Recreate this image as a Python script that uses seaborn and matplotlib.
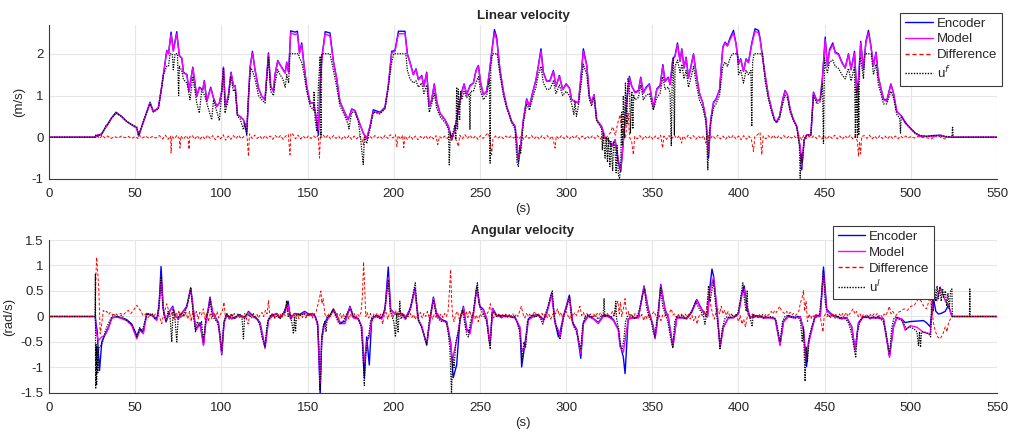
import pandas as pd
import seaborn as sns
import matplotlib.pyplot as plt
from matplotlib.lines import Line2D
from matplotlib.ticker import FuncFormatter

# ---- linear velocity (m/s), (t, v) ----
lin_model = [
    (0, 0), (26.7, 0), (28, 0.03), (30.5, 0.08), (33.4, 0.26), (36.4, 0.46), (38.9, 0.58), (42, 0.5), (45, 0.38), (48, 0.3),
    (50.9, 0.22), (52, 0.03), (55, 0.4), (58.6, 0.82), (60.5, 0.62), (63.4, 0.7), (65.4, 1.22), (68.3, 2.06), (69.3, 2.0), (70.8, 2.46),
    (72.1, 2.06), (74.1, 2.48), (75.6, 1.94), (77, 1.9), (78, 1.54), (80, 1.5), (81.2, 1.1), (83.4, 1.66), (85.7, 0.98), (87.2, 1.18),
    (89.2, 1.14), (90.1, 1.34), (91.5, 0.86), (93.8, 1.18), (95.4, 0.94), (97.3, 0.74), (98.8, 0.82), (100.2, 1.1), (101.2, 1.66), (102.3, 0.74),
    (104, 0.98), (105.6, 1.54), (107, 1.22), (108, 1.24), (109.3, 0.54), (110.8, 0.5), (112.8, 0.42), (114.7, 0.18), (115.7, 0.9), (116.6, 1.66),
    (118, 2.02), (119.5, 1.62), (121.5, 1.18), (123.4, 0.98), (125.3, 0.9), (127.3, 1.98), (128.6, 1.22), (130.2, 1.1), (131.1, 1.5), (132.7, 1.82),
    (134, 1.74), (135.6, 1.62), (137, 1.54), (137.9, 1.78), (139, 1.55), (140.2, 2.5), (142.7, 2.46), (144.1, 2.48), (145.3, 2.02), (146.6, 2.22),
    (148, 1.7), (149.5, 1.22), (151.5, 0.82), (153.4, 0.82), (154.9, 0.5), (156.3, 0.18), (157.3, 1.22), (158.2, 1.86), (160.2, 2.48), (163, 2.42),
    (165, 1.8), (166.9, 1.4), (168.8, 0.85), (171.7, 0.58), (173.6, 0.42), (175.6, 0.66), (177.5, 0.64), (179.4, 0.42), (182.3, 0.1), (184.3, -0.02),
    (186.2, 0.26), (188.1, 0.62), (192, 0.58), (194.9, 0.7), (196.8, 1.22), (198.8, 2.02), (200.7, 2.06), (202.7, 2.48), (206.5, 2.48), (207.9, 1.98),
    (209.4, 1.78), (211.4, 1.5), (212.9, 1.62), (214.3, 1.38), (216.2, 1.46), (217.5, 1.22), (219.1, 1.54), (220.6, 0.74), (222, 0.9), (223.5, 1.26),
    (224.9, 0.86), (226.8, 0.58), (229.7, 0.42), (231.7, 0.26), (233.6, -0.02), (235.5, 0.18), (237.5, 0.66), (239.4, 1.06), (240.8, 1.26), (242.3, 1.02),
    (244.2, 1.22), (246.2, 1.3), (247.7, 1.58), (249.1, 1.7), (250.4, 1.3), (252, 1.02), (253.9, 1.1), (255.5, 1.54), (256.8, 2.02), (258.4, 2.5),
    (259.7, 2.34), (261.6, 1.62), (263.6, 1.1), (265.5, 0.74), (268.4, 0.38), (270.4, 0.26), (272.3, -0.54), (273.6, -0.22), (275.2, 0.42), (277.1, 0.9),
    (278.7, 0.74), (280.6, 1.06), (282.5, 1.38), (283.9, 1.7), (285.4, 2.06), (286.8, 1.54), (288.7, 1.34), (290.6, 1.34), (292.6, 1.58), (294.1, 1.22),
    (296.1, 1.46), (298, 1.14), (300, 1.26), (301.9, 1.18), (303.2, 0.9), (305.1, 0.86), (307.1, 0.82), (308.5, 1.38), (310, 2.06), (312, 1.7),
    (313.5, 0.98), (314.8, 0.82), (316.2, 1.02), (317.7, 0.42), (320.6, 0.26), (322.6, -0.02), (324.5, -0.06), (326.4, -0.22), (328.4, -0.06), (330.3, -0.54),
    (331.7, -0.78), (333.2, -0.1), (335.2, 0.85), (336.7, 1.42), (338.1, 1.22), (340, 1.06), (341.9, 1.1), (343.3, 1.42), (344.8, 1.06), (346.4, 1.18),
    (348.3, 1.26), (350.6, 0.7), (352.6, 1.14), (354.5, 1.22), (356.1, 1.7), (357.4, 1.34), (359.3, 1.42), (360.3, 1.26), (361.9, 1.86), (363.2, 1.94),
    (364.6, 2.22), (366.1, 1.82), (367.1, 2.1), (368.4, 1.66), (369.6, 1.9), (371, 1.42), (372.5, 1.7), (373.9, 1.98), (375.4, 1.54), (377.3, 1.06),
    (379.3, 0.82), (381.2, 0.42), (382.6, -0.42), (383.9, 0.42), (385.5, 0.82), (387, 0.9), (389, 1.14), (390.9, 2.14), (392.2, 2.26), (393.6, 2.18),
    (395.1, 2.34), (397.1, 2.5), (398.6, 2.22), (400, 1.74), (401.3, 1.86), (402.9, 1.58), (404.4, 1.86), (405.8, 1.78), (407.7, 2.22), (409.6, 2.54),
    (411.6, 2.5), (412.5, 2.34), (414.1, 1.86), (415.4, 1.5), (417.4, 0.98), (419.3, 0.66), (420.9, 0.42), (422.2, 0.38), (423.8, 0.5), (425.7, 0.9),
    (427, 1.1), (428.4, 1.02), (430, 0.66), (431.9, 0.42), (433.8, 0.26), (435.8, -0.22), (436.7, -0.7), (438.1, -0.06), (439.6, 0.06), (442, 0.06),
    (443.5, 1.06), (445.4, 0.86), (447.4, 0.9), (448.7, 1.42), (450.3, 2.34), (451.6, 1.7), (452.8, 2.06), (454.7, 2.22), (456.1, 2.02), (458, 1.98),
    (460, 1.78), (461.9, 1.66), (463.8, 1.98), (465.3, 1.62), (467.3, 2.02), (468.6, 1.06), (469.8, 1.46), (470.9, 2.26), (472.5, 1.62), (473.9, 2.26),
    (475.4, 2.5), (476.8, 2.18), (478.3, 1.7), (479.8, 2.02), (481.2, 1.42), (482.6, 1.18), (484.1, 0.9), (486, 0.86), (488.4, 1.26), (489.9, 1.06),
    (491.8, 0.62), (494.7, 0.5), (496.7, 0.34), (499.6, 0.22), (502.5, 0.1), (505.4, 0.03), (509.2, 0.02), (513, 0.02), (517, 0.05), (520.9, 0.0),
    (550, 0.0),
]

lin_encoder = [
    (0, 0), (26.7, 0), (28, 0.05), (30.5, 0.08), (33.4, 0.28), (36.4, 0.47), (38.9, 0.6), (42, 0.5), (45, 0.38), (48, 0.3),
    (50.9, 0.22), (52, 0.03), (55, 0.4), (58.6, 0.84), (60.5, 0.62), (63.4, 0.7), (65.4, 1.22), (68.3, 2.08), (69.3, 2.0), (70.8, 2.52),
    (72.1, 2.08), (74.1, 2.53), (75.6, 1.96), (77, 1.9), (78, 1.56), (80, 1.5), (81.2, 1.1), (83.4, 1.68), (85.7, 0.98), (87.2, 1.2),
    (89.2, 1.14), (90.1, 1.36), (91.5, 0.86), (93.8, 1.2), (95.4, 0.94), (97.3, 0.74), (98.8, 0.82), (100.2, 1.1), (101.2, 1.68), (102.3, 0.74),
    (104, 0.98), (105.6, 1.56), (107, 1.22), (108, 1.24), (109.3, 0.54), (110.8, 0.5), (112.8, 0.42), (114.7, 0.1), (115.7, 0.9), (116.6, 1.66),
    (118, 2.06), (119.5, 1.62), (121.5, 1.18), (123.4, 0.98), (125.3, 0.9), (127.3, 2.02), (128.6, 1.22), (130.2, 1.1), (131.1, 1.5), (132.7, 1.84),
    (134, 1.74), (135.6, 1.64), (137, 1.54), (137.9, 1.8), (139, 1.55), (140.2, 2.55), (142.7, 2.52), (144.1, 2.54), (145.3, 2.02), (146.6, 2.26),
    (148, 1.7), (149.5, 1.22), (151.5, 0.82), (153.4, 0.82), (154.9, 0.5), (156.3, 0.05), (157.3, 1.22), (158.2, 1.88), (160.2, 2.53), (163, 2.5),
    (165, 1.82), (166.9, 1.4), (168.8, 0.85), (171.7, 0.58), (173.6, 0.42), (175.6, 0.68), (177.5, 0.64), (179.4, 0.42), (182.3, 0.1), (184.3, -0.04),
    (186.2, 0.26), (188.1, 0.66), (192, 0.6), (194.9, 0.72), (196.8, 1.22), (198.8, 2.06), (200.7, 2.08), (202.7, 2.54), (206.5, 2.54), (207.9, 2.0),
    (209.4, 1.8), (211.4, 1.5), (212.9, 1.64), (214.3, 1.38), (216.2, 1.48), (217.5, 1.22), (219.1, 1.56), (220.6, 0.74), (222, 0.9), (223.5, 1.28),
    (224.9, 0.86), (226.8, 0.58), (229.7, 0.42), (231.7, 0.26), (233.6, -0.06), (235.5, 0.18), (237.5, 0.68), (239.4, 1.08), (240.8, 1.28), (242.3, 1.02),
    (244.2, 1.24), (246.2, 1.3), (247.7, 1.6), (249.1, 1.72), (250.4, 1.3), (252, 1.02), (253.9, 1.1), (255.5, 1.56), (256.8, 2.04), (258.4, 2.58),
    (259.7, 2.4), (261.6, 1.62), (263.6, 1.1), (265.5, 0.74), (268.4, 0.38), (270.4, 0.26), (272.3, -0.6), (273.6, -0.22), (275.2, 0.42), (277.1, 0.92),
    (278.7, 0.74), (280.6, 1.08), (282.5, 1.38), (283.9, 1.72), (285.4, 2.12), (286.8, 1.56), (288.7, 1.34), (290.6, 1.36), (292.6, 1.6), (294.1, 1.22),
    (296.1, 1.48), (298, 1.14), (300, 1.28), (301.9, 1.18), (303.2, 0.9), (305.1, 0.86), (307.1, 0.82), (308.5, 1.4), (310, 2.12), (312, 1.72),
    (313.5, 0.98), (314.8, 0.84), (316.2, 1.02), (317.7, 0.42), (320.6, 0.26), (322.6, -0.02), (324.5, -0.06), (326.4, -0.22), (328.4, -0.06), (330.3, -0.6),
    (331.7, -0.82), (333.2, -0.1), (335.2, 0.88), (336.7, 1.46), (338.1, 1.22), (340, 1.08), (341.9, 1.12), (343.3, 1.44), (344.8, 1.06), (346.4, 1.2),
    (348.3, 1.28), (350.6, 0.7), (352.6, 1.16), (354.5, 1.24), (356.1, 1.74), (357.4, 1.34), (359.3, 1.44), (360.3, 1.26), (361.9, 1.88), (363.2, 1.96),
    (364.6, 2.26), (366.1, 1.82), (367.1, 2.12), (368.4, 1.66), (369.6, 1.92), (371, 1.42), (372.5, 1.72), (373.9, 2.0), (375.4, 1.54), (377.3, 1.06),
    (379.3, 0.82), (381.2, 0.42), (382.6, -0.5), (383.9, 0.42), (385.5, 0.84), (387, 0.92), (389, 1.14), (390.9, 2.16), (392.2, 2.28), (393.6, 2.2),
    (395.1, 2.38), (397.1, 2.56), (398.6, 2.24), (400, 1.76), (401.3, 1.88), (402.9, 1.58), (404.4, 1.88), (405.8, 1.8), (407.7, 2.26), (409.6, 2.6),
    (411.6, 2.56), (412.5, 2.38), (414.1, 1.88), (415.4, 1.5), (417.4, 0.98), (419.3, 0.66), (420.9, 0.42), (422.2, 0.36), (423.8, 0.5), (425.7, 0.92),
    (427, 1.12), (428.4, 1.02), (430, 0.66), (431.9, 0.42), (433.8, 0.26), (435.8, -0.26), (436.7, -0.78), (438.1, -0.06), (439.6, 0.06), (442, 0.06),
    (443.5, 1.08), (445.4, 0.88), (447.4, 0.9), (448.7, 1.44), (450.3, 2.4), (451.6, 1.7), (452.8, 2.1), (454.7, 2.26), (456.1, 2.04), (458, 2.0),
    (460, 1.8), (461.9, 1.66), (463.8, 2.0), (465.3, 1.62), (467.3, 2.06), (468.6, 1.06), (469.8, 1.46), (470.9, 2.3), (472.5, 1.62), (473.9, 2.3),
    (475.4, 2.56), (476.8, 2.2), (478.3, 1.72), (479.8, 2.04), (481.2, 1.44), (482.6, 1.18), (484.1, 0.92), (486, 0.88), (488.4, 1.28), (489.9, 1.06),
    (491.8, 0.62), (494.7, 0.5), (496.7, 0.36), (499.6, 0.22), (502.5, 0.1), (505.4, 0.03), (509.2, 0.02), (513, 0.04), (517, 0.05), (520.9, 0.0),
    (550, 0.0),
]

lin_uf = [
    (0, 0), (26.5, 0), (27, 0.05), (28, 0.02), (29, 0.06), (30, 0.03), (31, 0.1), (33, 0.28), (34, 0.3), (36, 0.45),
    (38.9, 0.58), (42, 0.5), (45, 0.38), (48, 0.3), (50.9, 0.25), (52, 0.05), (55, 0.42), (58.6, 0.8), (60.5, 0.6), (63.4, 0.68),
    (65.4, 1.2), (66.3, 1.5), (68.3, 1.7), (69.3, 1.7), (70.2, 2.0), (71.5, 2.0), (72.1, 1.62), (73.1, 2.0), (74.5, 2.0), (75.2, 1.0),
    (75.6, 1.7), (77, 1.6), (78, 1.38), (80, 1.3), (81.8, 0.9), (83.4, 1.46), (85.7, 0.82), (87.2, 0.58), (88.6, 1.14), (90.5, 0.98),
    (92, 0.75), (94.4, 0.42), (95.4, 0.9), (97.3, 0.62), (98.8, 0.4), (100.2, 1.05), (101.2, 1.66), (102.1, 0.58), (104, 0.9), (105.4, 1.46),
    (107, 1.1), (108, 1.15), (109.3, 0.5), (110.8, 0.45), (112.8, 0.18), (113.5, 0.35), (114.7, 0.05), (115.7, 1.02), (117, 1.66), (118, 1.6),
    (119.5, 1.4), (121.5, 1.0), (123.4, 0.9), (125.3, 0.82), (127.3, 1.94), (128.6, 1.1), (130.2, 1.0), (131.1, 1.3), (132.7, 1.62), (134, 1.5),
    (135.6, 1.4), (137, 1.2), (137.9, 1.5), (139, 1.3), (139.8, 2.0), (144.7, 2.0), (145.3, 1.9), (146.6, 1.8), (148, 1.5), (149.5, 1.1),
    (151.5, 0.75), (153.4, 0.65), (153.8, 1.1), (154.4, 0.42), (155.4, 0.14), (156.3, 1.22), (157.3, 1.94), (157.8, 0.0), (158.2, 2.0), (163, 2.0),
    (165, 1.6), (166.9, 1.2), (168.8, 0.75), (171.7, 0.5), (173.6, 0.3), (174, 0.2), (175.6, 0.6), (177.5, 0.6), (179.4, 0.38), (180.5, 0.05),
    (182.3, -0.65), (183, 0.0), (184.3, -0.15), (186.2, 0.2), (188.1, 0.6), (192, 0.56), (194.9, 0.68), (196.8, 1.2), (198.8, 1.8), (200, 2.0),
    (207, 2.0), (207.9, 1.6), (209.4, 1.4), (211.4, 1.3), (212.9, 1.35), (214.3, 1.2), (216.2, 1.3), (217.5, 1.05), (219.1, 1.25), (220.6, 0.6),
    (222, 0.8), (223.5, 1.05), (224.9, 0.7), (226.8, 0.5), (229.7, 0.35), (231.7, 0.2), (232.2, -0.66), (232.8, 0.1), (233.6, 0.0), (235.5, 0.3),
    (236, -0.05), (236.5, 1.2), (237, 0.2), (237.5, 1.15), (238.2, 0.4), (238.8, 1.1), (239.4, 0.9), (240.8, 1.1), (242.3, 0.95), (243.8, 1.05),
    (244.2, 0.18), (244.6, 1.1), (246.2, 1.1), (247.7, 1.3), (249.1, 1.45), (250.4, 1.1), (252, 0.9), (253.9, 1.0), (255.5, 1.4), (255.9, -0.62),
    (256.3, 1.7), (257.3, 2.0), (260, 2.0), (261.6, 1.5), (263.6, 1.0), (265.5, 0.7), (268.4, 0.35), (270.4, 0.2), (271.5, -0.6), (272.3, -0.7),
    (273, -0.2), (273.6, -0.4), (275.2, 0.35), (277.1, 0.8), (278.7, 0.65), (280.6, 0.95), (282.5, 1.2), (283.9, 1.5), (285.4, 1.7), (286.8, 1.3),
    (288.7, 1.15), (290.6, 1.15), (292.6, 1.35), (294.1, 1.05), (296.1, 1.25), (298, 1.0), (300, 1.1), (301.9, 1.0), (303.2, 0.8), (304.5, 0.55),
    (305.1, 0.85), (306, 0.5), (307.1, 0.75), (308.5, 1.2), (310, 1.75), (312, 1.5), (313.5, 0.9), (314.8, 0.75), (316.2, 0.95), (317.7, 0.4),
    (320.6, 0.2), (321, -0.3), (321.5, 0.1), (322.6, -0.5), (323.2, 0.0), (324, -0.6), (324.5, 0.0), (325.4, -0.7), (326, -0.1), (326.4, -0.4),
    (327, -0.8), (327.6, -0.1), (328.4, -0.3), (329, -0.85), (329.6, -0.2), (330.3, -0.9), (331, -1.0), (331.7, -0.6), (332.2, 0.6), (332.6, -0.2),
    (333.2, 1.0), (333.8, 0.0), (334.4, 1.3), (335.2, 0.3), (335.8, 1.4), (336.7, 1.3), (337.3, 0.1), (338.1, 1.1), (338.7, 0.2), (339.2, 1.0),
    (340, 0.9), (341.9, 0.95), (343.3, 1.25), (344.8, 0.9), (346.4, 1.0), (348.3, 1.05), (350.6, 0.65), (352.6, 0.95), (354.5, 1.05), (356.1, 1.45),
    (357.4, 1.15), (359.3, 1.2), (360.3, 1.05), (361, -0.2), (361.6, 1.6), (362.2, 1.9), (362.8, 0.05), (363.2, 1.7), (364.6, 1.85), (366.1, 1.55),
    (367.1, 1.75), (368.4, 1.4), (369.6, 1.6), (371, 1.2), (372.5, 1.45), (373.9, 1.7), (375.4, 1.3), (377.3, 0.9), (379.3, 0.7), (381.2, 0.35),
    (382.2, -0.78), (383, 0.1), (383.9, 0.35), (385.5, 0.7), (387, 0.8), (389, 1.0), (390.9, 1.7), (392.2, 1.8), (393.6, 1.7), (395.1, 1.9),
    (396.5, 2.0), (399.5, 2.0), (400, 1.5), (401.3, 1.6), (402.9, 1.3), (404.4, 1.6), (405.8, 1.5), (407.2, 1.6), (407.7, 0.26), (408.2, 1.8),
    (409, 2.0), (414, 2.0), (415.4, 1.35), (417.4, 0.9), (419.3, 0.6), (420.9, 0.4), (422.2, 0.35), (423.8, 0.45), (425.7, 0.8), (427, 1.0),
    (428.4, 0.95), (430, 0.6), (431.9, 0.4), (433.8, 0.25), (435.3, -0.2), (435.8, -0.98), (436.4, -0.4), (437, -0.6), (438.1, -0.05), (439.6, 0.05),
    (442, 0.05), (443.5, 1.0), (445.4, 0.8), (447.4, 0.85), (448.7, 1.3), (449.3, -0.15), (449.9, 1.9), (450.5, 1.7), (451.6, 1.55), (452.8, 1.8),
    (454.7, 1.85), (456.1, 1.7), (458, 1.65), (460, 1.5), (461.9, 1.4), (463.8, 1.65), (465.3, 1.35), (467.3, 1.7), (467.8, 0.0), (468.3, 1.2),
    (468.6, 0.9), (469, 0.0), (469.4, 1.3), (469.8, 0.05), (470.3, 1.9), (470.9, 1.9), (472.5, 1.4), (473.2, 2.0), (477, 2.0), (478.3, 1.5),
    (479.8, 1.75), (481.2, 1.25), (482.6, 1.05), (484.1, 0.8), (486, 0.8), (488.4, 1.1), (489.9, 0.95), (491.8, 0.55), (493.5, 0.45), (494, 0.1),
    (494.4, 0.5), (496.7, 0.35), (499.6, 0.22), (502.5, 0.1), (505.4, 0.04), (509.2, 0.02), (513, 0.04), (517, 0.03), (520.9, 0.02), (523.8, 0.0),
    (524.2, 0.26), (524.6, 0.0), (550, 0.0),
]

lin_diff = [
    (0, 0), (27, 0), (28, 0.04), (29.5, -0.03), (31, 0.05), (32.5, -0.02), (34, 0.03), (36, -0.03), (38, 0.02), (40, -0.02),
    (42, 0.03), (44, -0.01), (46, 0.02), (48, -0.03), (50, 0.02), (51.5, -0.03), (52.5, 0.05), (54, -0.02), (56, 0.03), (58, -0.03),
    (60, 0.02), (62, -0.02), (64, 0.04), (66, -0.04), (67.5, 0.05), (69, -0.05), (70.5, 0.03), (70.8, -0.38), (71.3, 0.02), (72.8, -0.04),
    (74.2, 0.05), (75.6, -0.03), (76, -0.26), (76.5, 0.03), (78, -0.05), (79.5, 0.04), (80.8, -0.04), (81.2, -0.29), (81.7, 0.02), (83, 0.05),
    (84.5, -0.05), (86, 0.04), (87.5, -0.06), (89, 0.03), (90.5, -0.05), (92, 0.05), (93.5, -0.03), (95, 0.04), (96.5, -0.06), (98, 0.03),
    (99.5, -0.04), (101, 0.06), (102.5, -0.07), (104, 0.03), (105.5, -0.05), (107, 0.04), (108.5, -0.03), (110, 0.05), (111.5, -0.04), (113, 0.02),
    (114.8, 0.06), (115.7, -0.46), (116.3, 0.08), (117.8, -0.03), (119.3, 0.05), (120.8, -0.03), (122.3, 0.03), (123.8, -0.05), (125.3, 0.04), (126.8, -0.03),
    (128.3, 0.03), (129.8, -0.05), (131.3, 0.04), (132.8, -0.02), (134.3, 0.04), (135.8, -0.05), (137.3, 0.03), (138.8, 0.07), (139.8, -0.42), (140.3, 0.1),
    (141.5, 0.07), (143, -0.04), (144.5, 0.05), (146, -0.04), (147.5, 0.03), (149, -0.04), (150.5, 0.03), (152, -0.03), (153.5, 0.03), (155, -0.02),
    (156.2, 0.05), (156.9, -0.5), (157.5, 0.1), (158.8, 0.07), (160.3, -0.02), (161.8, 0.05), (163.3, -0.04), (165, 0.04), (166.5, -0.03), (168, 0.03),
    (169.5, -0.06), (171, 0.03), (172.5, -0.04), (174, 0.04), (175.5, -0.05), (177, 0.03), (178.5, -0.04), (180, 0.04), (181.5, -0.04), (182.3, -0.18),
    (183, 0.04), (184.5, -0.05), (186, 0.03), (187.5, -0.03), (189, 0.04), (190.5, -0.02), (192, 0.03), (193.5, -0.04), (195, 0.05), (196.5, -0.03),
    (198, 0.06), (199.5, -0.02), (201, 0.06), (201.8, -0.22), (202.5, 0.04), (204, -0.05), (205.2, 0.05), (205.8, -0.25), (206.5, 0.03), (208, -0.06),
    (209.5, 0.04), (211, -0.05), (212.5, 0.03), (214, -0.06), (215.5, 0.02), (217, -0.04), (218.5, 0.04), (220, -0.05), (221.5, 0.03), (223, -0.04),
    (224.5, 0.04), (225.5, -0.18), (226.5, 0.02), (228, -0.03), (229.5, 0.03), (231, -0.03), (232.5, 0.04), (233.6, -0.08), (234.5, 0.05), (236, -0.05),
    (237.5, -0.22), (238.3, 0.05), (239.8, -0.04), (241.3, 0.06), (242.8, -0.03), (244.3, 0.05), (245.8, -0.04), (247.3, 0.03), (248.8, -0.05), (250.3, 0.04),
    (251.8, -0.03), (253.3, 0.05), (254.8, 0.1), (255.8, -0.03), (256.8, -0.42), (257.5, -0.05), (259, 0.03), (260.5, -0.02), (262, 0.03), (263.5, -0.03),
    (265, 0.03), (266.5, -0.02), (268, 0.03), (269.5, -0.02), (271, 0.04), (272.5, -0.04), (274, 0.03), (275.5, -0.05), (277, 0.04), (278.5, -0.03),
    (280, 0.04), (281.5, -0.04), (283, 0.03), (284.5, -0.05), (286, 0.04), (287.5, -0.03), (289, 0.04), (290.5, -0.04), (292, 0.03), (293.6, -0.26),
    (294.3, 0.03), (295.8, -0.04), (297.3, 0.04), (298.8, -0.03), (300.3, 0.03), (301.8, -0.05), (303.3, 0.04), (304.8, -0.03), (306.3, 0.04), (307.8, -0.05),
    (309.3, 0.03), (310.8, -0.04), (312.3, 0.03), (313.8, -0.04), (315.3, 0.04), (316.8, -0.03), (318.3, 0.04), (319.8, -0.04), (321.3, 0.03), (322.8, -0.05),
    (324, 0.03), (325.5, 0.1), (327, 0.25), (328.5, 0.05), (330, 0.35), (331.3, 0.54), (332.3, 0.1), (333.2, 0.18), (334.5, 0.0), (336, 0.58),
    (336.8, 0.0), (338, -0.1), (339, -0.42), (339.8, 0.02), (341.3, -0.04), (342.8, 0.04), (344.3, -0.05), (345.8, 0.03), (347.3, -0.04), (348.8, 0.04),
    (350.3, -0.05), (351.8, 0.03), (353.3, -0.04), (354.8, 0.05), (356, -0.26), (356.7, 0.03), (358.2, -0.05), (359.7, 0.04), (361.2, -0.04), (362.7, 0.05),
    (364.2, -0.03), (365.7, 0.04), (367, -0.14), (367.8, 0.03), (369.3, -0.04), (370.8, 0.05), (372.3, -0.03), (373.8, 0.04), (375.3, -0.05), (376.8, 0.03),
    (378.3, -0.04), (379.8, 0.04), (381, -0.14), (382, 0.05), (383.5, -0.04), (385, 0.04), (386.5, -0.03), (388, 0.05), (389.5, -0.04), (391, 0.03),
    (392.5, -0.05), (394, 0.04), (395.5, -0.03), (397, 0.05), (398.5, -0.04), (400, 0.03), (401.5, -0.06), (403, 0.04), (404.5, -0.05), (406, 0.03),
    (407.5, -0.06), (408.7, -0.34), (409.5, 0.02), (411, 0.06), (412.5, 0.12), (413.5, -0.42), (414.3, 0.03), (415.8, -0.04), (417.3, 0.04), (418.8, -0.03),
    (420.3, 0.05), (421.8, -0.04), (423.3, 0.03), (424.8, -0.03), (426.3, 0.04), (427.8, -0.03), (429.3, 0.03), (430.8, -0.02), (432.3, 0.03), (433.8, -0.03),
    (435.3, 0.04), (436.7, -0.06), (437.8, 0.05), (439.3, -0.03), (440.8, 0.03), (442.3, -0.02), (443.8, 0.04), (445.3, -0.03), (446.8, 0.04), (448.3, -0.04),
    (449.8, 0.03), (451.3, -0.05), (452.8, 0.04), (454.3, -0.03), (455.8, 0.05), (457.3, -0.04), (458.8, 0.03), (460.3, -0.05), (461.8, 0.04), (463.3, -0.03),
    (464.8, 0.05), (466.3, -0.04), (467.8, 0.03), (469, -0.1), (469.6, -0.46), (470.2, -0.1), (470.8, -0.4), (471.5, 0.02), (473, 0.04), (474.5, -0.03),
    (476, 0.05), (477.5, -0.04), (479, 0.03), (480.5, -0.04), (482, 0.04), (483.5, -0.03), (485, 0.03), (486.5, -0.04), (488, 0.04), (489.5, -0.03),
    (491, 0.03), (492.5, -0.04), (494, 0.03), (495.5, -0.02), (497, 0.03), (498.5, -0.02), (500, 0.02), (502, -0.02), (504, 0.02), (506, -0.01),
    (508, 0.0), (510, -0.02), (512, -0.04), (514, 0.03), (516, 0.05), (518, -0.03), (520, -0.04), (522, 0.01), (523.8, 0), (550, 0),
]

# ---- angular velocity (rad/s) ----
ang_model = [
    (0, 0), (26.8, 0), (27.3, -0.3), (28.6, -0.47), (30.6, -0.4), (32.5, -0.37), (34.4, -0.24), (36.4, -0.03), (39.3, -0.01), (42, -0.04),
    (45, -0.08), (48, -0.18), (50.9, -0.44), (52.8, -0.27), (54.7, -0.34), (56.7, 0.05), (59.6, 0.02), (62.5, -0.08), (63.8, 0.15), (65, 0.77),
    (66.3, 0.12), (67.9, -0.11), (70.2, 0.12), (71.8, 0.18), (73.1, 0.02), (75, -0.05), (77, 0.05), (79.9, 0.18), (82.2, 0.54), (83.8, 0.12),
    (85.1, -0.27), (86.6, -0.2), (87.6, -0.14), (89.6, -0.57), (90.9, -0.14), (92.5, 0.15), (93.4, 0.35), (95, 0.05), (96.3, -0.01), (98.3, -0.14),
    (100.2, -0.73), (101.5, -0.14), (103.1, 0.02), (106, -0.05), (108.9, -0.01), (110.8, 0.02), (113.7, -0.03), (115.7, 0.08), (118.6, -0.01), (120.5, -0.05),
    (122.4, -0.14), (125.3, -0.63), (127.3, -0.08), (129.2, 0.0), (132.1, 0.05), (134, -0.03), (136, 0.05), (138.7, 0.22), (140.1, -0.05), (142.4, 0.05),
    (145.3, 0.02), (148.3, 0.08), (151, 0.02), (152.9, 0.05), (154.5, -0.01), (155.9, -0.18), (157.3, -1.32), (158.2, -0.47), (159.6, -0.2), (161.1, -0.08),
    (163, 0.0), (165, 0.12), (166.9, 0.0), (168.8, -0.14), (171.7, -0.14), (174.6, 0.18), (176.5, -0.03), (179.4, -0.05), (181.4, -0.21), (182.9, -0.9),
    (184.3, -0.5), (185.8, -0.4), (187.2, -0.05), (190.1, 0.0), (193, -0.05), (194.9, 0.12), (196.8, 0.77), (198.2, 0.12), (200.7, 0.05), (202.7, 0.05),
    (204.6, 0.05), (206.5, -0.05), (209.4, 0.12), (212.3, 0.51), (214.3, -0.08), (216.2, -0.18), (219.1, -0.57), (221, -0.08), (223, 0.35), (224.9, 0.02),
    (227.8, -0.08), (230.7, -0.11), (233, -0.54), (234, -0.85), (236.5, -0.47), (238.4, -0.08), (240.4, 0.18), (242.3, -0.27), (244.2, -0.34), (246.2, 0.05),
    (248.1, 0.54), (250, 0.18), (252, 0.12), (253.9, -0.05), (255.8, -0.57), (257.4, 0.15), (259.7, 0.0), (263.6, 0.0), (267.5, 0.0), (270.4, -0.03),
    (273.3, -0.21), (274.2, -0.67), (276.2, -0.6), (278.1, -0.07), (281, 0.0), (283.9, 0.02), (286.8, -0.08), (288.7, 0.05), (291.6, 0.44), (293.6, -0.14),
    (295.5, -0.27), (296.5, -0.4), (298.4, -0.01), (301.9, 0.38), (303.8, -0.14), (306.1, -0.27), (308.5, -0.73), (310, -0.14), (312.9, 0.0), (315.8, -0.05),
    (318.7, -0.14), (321.6, 0.0), (324.5, 0.0), (327.4, -0.08), (330.3, -0.27), (331.3, -0.6), (333.2, -0.7), (336, -0.05), (339, -0.03), (341.9, -0.03),
    (345.2, 0.58), (347.7, 0.12), (350.6, -0.21), (351.6, -0.44), (353.5, 0.05), (354.9, 0.61), (357.4, 0.12), (359.3, -0.03), (361.9, -0.6), (364.2, -0.03),
    (367.1, -0.03), (370, -0.05), (372.9, 0.08), (375.8, 0.31), (378.7, 0.12), (382, -0.01), (383.5, 0.51), (385.5, 0.77), (387.4, 0.18), (389.3, -0.6),
    (391.3, -0.21), (394.2, -0.03), (397.1, -0.03), (400, 0.05), (401.9, 0.41), (403.3, 0.54), (404.8, 0.18), (406.7, -0.03), (410.6, 0.0), (414.5, -0.03),
    (418.3, -0.03), (421.3, -0.05), (424.1, -0.57), (426.1, -0.11), (429, 0.0), (431.9, -0.03), (435.8, -0.01), (437.7, -0.27), (439, -0.86), (440.6, -0.54),
    (442.5, -0.27), (444.5, 0.0), (447.4, 0.0), (449.3, 0.84), (451.2, 0.12), (454.1, 0.02), (457, -0.01), (459.9, -0.05), (462.8, -0.03), (465.7, -0.21),
    (467.7, -0.67), (469.6, -0.14), (472.5, -0.01), (476.4, -0.03), (480.2, -0.03), (484.1, -0.05), (487.6, -0.8), (489.9, -0.21), (491.8, -0.03), (494.7, -0.05),
    (496.7, -0.27), (499.6, -0.18), (503.5, -0.21), (507.3, -0.31), (511.2, -0.34), (513.1, 0.38), (515, 0.31), (517, 0.58), (519.9, 0.31), (521.8, 0.22),
    (523.8, 0.0), (550, 0.0),
]

ang_encoder = [
    (0, 0), (26.8, 0), (27.3, -0.15), (28, -0.3), (28.6, -0.7), (29.3, -1.06), (30.6, -0.5), (32.5, -0.35), (34.4, -0.22), (36.4, -0.03),
    (39.3, 0.0), (42, -0.03), (45, -0.06), (48, -0.15), (50.9, -0.38), (52.8, -0.24), (54.7, -0.3), (56.7, 0.06), (59.6, 0.03), (62.5, -0.06),
    (63.8, 0.2), (65, 0.98), (66.3, 0.15), (67.9, -0.1), (70.2, 0.12), (71.8, 0.2), (73.1, 0.02), (75, -0.04), (77, 0.06), (79.9, 0.2),
    (82.2, 0.56), (83.8, 0.12), (85.1, -0.25), (86.6, -0.18), (87.6, -0.12), (89.6, -0.55), (90.9, -0.12), (92.5, 0.18), (93.4, 0.38), (95, 0.06),
    (96.3, 0.0), (98.3, -0.12), (100.2, -0.75), (101.5, -0.12), (103.1, 0.04), (106, -0.04), (108.9, 0.0), (110.8, 0.03), (113.7, -0.02), (115.7, 0.1),
    (118.6, 0.0), (120.5, -0.04), (122.4, -0.12), (125.3, -0.6), (127.3, -0.06), (129.2, 0.02), (132.1, 0.06), (134, -0.02), (136, 0.06), (138.7, 0.3),
    (140.1, -0.04), (142.4, 0.06), (145.3, 0.04), (148.3, 0.1), (151, 0.04), (152.9, 0.06), (154.5, 0.0), (155.9, -0.15), (157.3, -1.55), (158.2, -0.4),
    (159.6, -0.15), (161.1, -0.05), (163, 0.02), (165, 0.15), (166.9, 0.02), (168.8, -0.12), (171.7, -0.1), (174.6, 0.2), (176.5, 0.0), (179.4, -0.04),
    (181.4, -0.2), (182.9, -1.2), (184.3, -0.4), (185.8, -0.95), (187.2, -0.05), (190.1, 0.02), (193, -0.03), (194.9, 0.14), (196.8, 0.97), (198.2, 0.14),
    (200.7, 0.05), (202.7, 0.06), (204.6, 0.05), (206.5, -0.04), (209.4, 0.14), (212.3, 0.55), (214.3, -0.06), (216.2, -0.2), (219.1, -0.55), (221, -0.06),
    (223, 0.38), (224.9, 0.04), (227.8, -0.06), (230.7, -0.1), (233, -0.5), (234.5, -1.2), (236.5, -0.95), (238.4, -0.06), (240.4, 0.2), (242.3, -0.25),
    (244.2, -0.3), (246.2, 0.06), (248.1, 0.58), (250, 0.2), (252, 0.14), (253.9, -0.04), (255.8, -0.55), (257.4, 0.16), (259.7, 0.02), (263.6, 0.02),
    (267.5, 0.0), (270.4, -0.02), (273.3, -0.25), (274.2, -0.99), (276.2, -0.5), (278.1, -0.05), (281, 0.02), (283.9, 0.04), (286.8, -0.06), (288.7, 0.06),
    (291.6, 0.46), (293.6, -0.12), (295.5, -0.4), (296.5, -0.3), (298.4, 0.0), (301.9, 0.42), (303.8, -0.12), (306.1, -0.25), (308.5, -0.82), (310, -0.12),
    (312.9, 0.02), (315.8, -0.04), (318.7, -0.12), (321.6, 0.02), (324.5, 0.02), (327.4, -0.06), (330.3, -0.25), (331.3, -0.55), (333.2, -0.8), (334.2, -1.12),
    (336, -0.05), (339, -0.02), (341.9, -0.02), (345.2, 0.6), (347.7, 0.14), (350.6, -0.2), (351.6, -0.42), (353.5, 0.06), (354.9, 0.63), (357.4, 0.14),
    (359.3, -0.02), (361.9, -0.58), (364.2, -0.02), (367.1, -0.02), (370, -0.04), (372.9, 0.1), (375.8, 0.33), (378.7, 0.14), (382, 0.0), (383.5, 0.6),
    (384.6, 0.93), (385.5, 0.8), (387.4, 0.15), (389.3, -0.58), (391.3, -0.2), (394.2, -0.02), (397.1, -0.02), (400, 0.06), (401.9, 0.44), (403.3, 0.6),
    (404.8, 0.2), (406.7, -0.02), (410.6, 0.02), (414.5, -0.02), (418.3, -0.02), (421.3, -0.04), (424.1, -0.55), (426.1, -0.1), (429, 0.02), (431.9, -0.02),
    (435.8, 0.0), (437.7, -0.25), (439.5, -0.98), (440.6, -0.5), (442.5, -0.25), (444.5, 0.02), (447.4, 0.02), (449.3, 0.97), (451.2, 0.14), (454.1, 0.04),
    (457, 0.0), (459.9, -0.04), (462.8, -0.02), (465.7, -0.2), (467.7, -0.65), (469.6, -0.12), (472.5, 0.0), (476.4, -0.02), (480.2, -0.02), (484.1, -0.04),
    (487.6, -0.78), (489.9, -0.2), (491.8, -0.02), (494.7, -0.05), (496.7, -0.12), (499.6, -0.1), (503.5, -0.09), (507.3, -0.08), (509, -0.12), (511.2, -0.2),
    (513.1, 0.35), (514.5, 0.1), (516, 0.05), (517.5, 0.06), (519.9, 0.1), (521.8, 0.22), (523.8, 0.0), (550, 0.0),
]

ang_ul = [
    (0, 0), (26.7, 0), (26.9, 0.84), (27.05, -1.42), (27.3, -0.55), (27.6, -1.35), (27.9, -0.6), (28.3, -1.1), (28.8, -0.62), (29.5, -0.6),
    (30.5, -0.55), (31.5, -0.45), (32.5, -0.3), (33.5, -0.21), (35, -0.1), (36.5, 0.0), (38, 0.03), (40, -0.02), (42, 0.02), (44, -0.05),
    (46, -0.1), (48, -0.15), (50, -0.3), (51, -0.4), (52.5, -0.22), (54, -0.3), (55.5, -0.1), (57, 0.06), (58.5, 0.02), (60, 0.05),
    (61.5, -0.05), (63, 0.02), (64, 0.3), (65, 0.78), (66, 0.2), (67, 0.0), (68, -0.1), (69, 0.1), (70.2, 0.0), (71.2, -0.5),
    (72, 0.15), (73, 0.0), (74.1, -0.5), (75, 0.0), (76.5, 0.06), (78, 0.0), (79.5, 0.15), (81, 0.35), (82.2, 0.57), (83.5, 0.1),
    (85, -0.3), (86, -0.1), (87.5, -0.2), (88.5, -0.1), (89.6, -0.5), (91, -0.05), (92.5, 0.12), (93.4, 0.33), (94.5, 0.02), (96, -0.05),
    (97.5, -0.1), (99, -0.3), (100.2, -0.68), (101.5, -0.1), (103, 0.05), (104.5, -0.05), (106, 0.05), (107.5, -0.05), (109, 0.02), (110.5, 0.05),
    (112, -0.05), (112.8, -0.44), (113.5, 0.0), (115, 0.05), (116.5, 0.0), (118, 0.03), (119.5, -0.02), (121, -0.05), (122.5, -0.2), (123.5, -0.4),
    (125.3, -0.6), (126.5, -0.15), (128, 0.0), (129.5, 0.05), (131, -0.03), (132.5, 0.03), (134, -0.05), (135.5, 0.05), (137, 0.1), (137.9, 0.31),
    (138.8, 0.0), (140, 0.05), (141, -0.15), (141.8, -0.34), (142.4, 0.0), (143, -0.3), (143.6, 0.02), (145, 0.05), (146.5, 0.02), (148, 0.06),
    (149.5, 0.0), (151, 0.05), (152.5, 0.02), (154, 0.03), (155.5, -0.1), (156.5, -0.5), (157.3, -1.45), (158.2, -0.5), (159, -0.2), (160, -0.1),
    (160.7, -0.3), (161.5, 0.0), (163, 0.02), (164.5, 0.12), (166, 0.05), (167.5, -0.1), (169, -0.15), (170.5, -0.1), (172, 0.0), (173.5, 0.1),
    (175, 0.15), (176.5, 0.0), (178, -0.02), (179.5, -0.05), (181, -0.2), (182, -0.6), (182.9, -1.35), (183.6, -0.8), (184.5, -0.5), (185.5, -0.35),
    (186.5, -0.1), (188, 0.0), (189.5, 0.02), (191, -0.02), (192.5, -0.04), (194, 0.05), (195, 0.2), (196.8, 0.72), (198, 0.1), (199, 0.0),
    (200, -0.1), (201, -0.4), (201.7, 0.05), (202.5, -0.3), (203.5, 0.3), (204.2, -0.05), (205.5, 0.05), (207, -0.05), (208.5, 0.05), (210, 0.2),
    (211.5, 0.5), (212.5, 0.66), (213.5, 0.1), (214.5, -0.1), (216, -0.2), (217.5, -0.35), (219.1, -0.55), (220.5, -0.1), (222, 0.15), (223, 0.33),
    (224.5, 0.05), (226, -0.05), (227.5, -0.1), (229, -0.08), (230.5, -0.12), (231.5, -0.3), (232.5, -0.6), (233.5, -1.5), (234.2, -0.8), (235, -1.0),
    (236, -0.5), (237.5, -0.3), (238.5, -0.05), (240, 0.12), (241, -0.1), (242.3, -0.35), (243.3, -0.4), (244.5, -0.1), (246, 0.05), (247.5, 0.4),
    (248.5, 0.66), (249.5, 0.25), (251, 0.1), (252.5, 0.0), (253.9, -0.1), (255, -0.4), (256, -0.64), (256.8, 0.0), (258, 0.1), (259.5, 0.0),
    (261, 0.03), (262.5, -0.03), (264, 0.02), (265.5, -0.02), (267, 0.03), (268.5, -0.03), (270, 0.0), (271.5, -0.1), (273, -0.3), (274.5, -0.85),
    (275.5, -0.5), (276.5, -0.6), (277.5, -0.1), (279, 0.0), (280.5, 0.04), (282, -0.02), (283.5, 0.03), (285, -0.02), (286.5, -0.15), (288, 0.05),
    (289.5, 0.2), (291, 0.4), (292, 0.5), (293.2, -0.05), (294.5, -0.2), (295.5, -0.35), (296.5, -0.45), (297.5, -0.2), (299, 0.05), (300.5, 0.2),
    (301.9, 0.4), (303, 0.0), (304.5, -0.2), (306, -0.3), (307.5, -0.5), (308.5, -0.65), (309.5, -0.2), (311, 0.0), (312.5, 0.03), (314, -0.02),
    (315.5, 0.0), (317, 0.02), (318.5, -0.05), (320, 0.0), (321.5, 0.02), (322, 0.35), (322.5, 0.0), (324, 0.02), (325.5, -0.02), (327, 0.0),
    (328, 0.03), (328.8, 0.3), (329.3, -0.05), (330.5, -0.25), (331.5, -0.55), (332.5, -0.65), (333.5, -0.45), (334.5, -0.1), (335.5, 0.0), (337, 0.05),
    (338.5, 0.0), (340, -0.05), (341.5, 0.02), (343, 0.2), (344.5, 0.45), (345.5, 0.55), (346.5, 0.2), (348, 0.0), (349.5, -0.1), (350.5, -0.3),
    (351.5, -0.4), (352.5, -0.1), (353.5, 0.15), (354.9, 0.58), (356, 0.2), (357.5, 0.05), (359, -0.1), (360.5, -0.4), (361.9, -0.62), (363, -0.1),
    (364.5, 0.02), (366, -0.02), (367.5, 0.03), (369, -0.05), (370.5, 0.0), (372, 0.05), (373.5, 0.15), (375, 0.3), (376.5, 0.2), (378, 0.1),
    (379.5, 0.05), (380.5, -0.15), (381.5, 0.05), (382.6, 0.6), (383.5, 0.3), (384.5, 0.5), (385.5, 0.7), (386.5, 0.3), (387.5, 0.0), (388.5, -0.3),
    (389.3, -0.65), (390.5, -0.25), (392, -0.05), (393.5, 0.0), (395, -0.03), (396.5, 0.02), (398, 0.0), (399.5, 0.05), (401, 0.3), (402.5, 0.66),
    (403.5, 0.3), (404.5, 0.1), (405, 0.5), (405.5, 0.05), (406.5, 0.0), (408, -0.2), (408.5, 0.05), (410, 0.0), (411.5, -0.02), (413, 0.02),
    (414.5, -0.03), (416, 0.0), (417.5, -0.02), (419, 0.0), (420.5, -0.02), (422, -0.1), (423, -0.3), (424.1, -0.5), (425.5, -0.1), (427, 0.0),
    (428.5, 0.02), (430, -0.02), (431.5, 0.0), (433, -0.03), (434.5, 0.0), (436, -0.1), (437, -0.5), (437.7, -0.2), (438.6, -1.27), (439.3, -0.6),
    (440, -0.9), (441, -0.4), (442.5, -0.2), (444, -0.05), (445.5, 0.0), (447, 0.05), (448.2, 0.4), (449.3, 0.9), (450.3, 0.3), (451.5, 0.05),
    (453, 0.0), (454.5, 0.03), (456, -0.03), (457.5, 0.02), (459, -0.05), (460.5, 0.0), (462, -0.05), (463.5, -0.1), (465, -0.25), (466.5, -0.5),
    (468, -0.81), (469, -0.3), (470.5, -0.1), (472, 0.0), (473.5, -0.03), (475, 0.0), (476.5, -0.05), (478, 0.0), (479.5, -0.03), (481, 0.0),
    (482.5, -0.05), (484, -0.1), (485.5, -0.3), (487.6, -0.75), (488.8, -0.25), (490, -0.05), (491.5, 0.0), (493, -0.05), (494.5, -0.08), (496, -0.15),
    (497.5, -0.25), (499, -0.2), (500.5, -0.22), (502, -0.25), (503.5, -0.3), (504.4, -0.57), (505, -0.3), (505.6, -0.6), (506.2, -0.3), (507.5, -0.3),
    (509, -0.32), (510.5, -0.35), (511.5, -0.4), (512.2, 0.64), (513, 0.1), (513.8, 0.55), (514.5, 0.3), (515.2, 0.6), (516, 0.35), (516.8, 0.58),
    (517.6, 0.3), (518.4, 0.55), (519, 0.38), (520, 0.5), (520.8, 0.2), (521.5, 0.45), (522.3, 0.15), (523, 0.5), (523.8, 0.54), (524.1, 0.0),
    (534, 0.0), (534.2, 0.54), (534.4, 0.0), (550, 0.0),
]

ang_diff = [
    (0, 0), (26.8, 0), (27.2, 0.8), (27.6, 1.16), (28.2, 0.9), (28.8, 0.6), (29.3, 0.1), (29.7, -0.34), (30.6, -0.14), (31.5, 0.12),
    (32.5, 0.08), (33.5, 0.1), (34.5, 0.04), (35.5, 0.08), (37, 0.03), (38.5, 0.06), (40, 0.02), (41.5, 0.06), (43, 0.03), (44.5, 0.08),
    (46, 0.12), (47.5, 0.06), (49, 0.12), (50.9, 0.22), (52, 0.16), (53, 0.12), (54.5, 0.02), (56, 0.05), (57.5, -0.02), (59, 0.05),
    (60.5, 0.0), (62, 0.06), (63.5, 0.02), (64.5, -0.05), (65.4, -0.14), (66.5, 0.05), (67.5, 0.15), (68.3, 0.25), (69.5, 0.1), (70.5, 0.02),
    (71.5, 0.1), (72.5, -0.05), (73.5, 0.08), (74.5, 0.02), (75.5, 0.12), (76.5, -0.02), (77.5, 0.1), (78.5, 0.0), (79.5, 0.08), (80.5, -0.05),
    (81.5, 0.1), (82.5, -0.1), (83.5, 0.12), (84.5, 0.0), (85.5, 0.1), (86.5, -0.05), (87.5, 0.08), (88.5, 0.03), (89.5, 0.15), (90.5, -0.05),
    (91.5, 0.08), (92.5, -0.1), (93.5, 0.05), (94.5, -0.05), (95.5, 0.08), (96.5, 0.0), (97.5, 0.1), (98.5, -0.03), (99.5, 0.05), (100.5, 0.1),
    (101.5, 0.28), (102.3, 0.0), (103.5, 0.06), (104.5, -0.04), (105.5, 0.05), (106.5, -0.02), (107.5, 0.06), (108.5, -0.03), (109.5, 0.05), (110.5, -0.02),
    (111.5, 0.04), (112.5, -0.05), (113.5, 0.06), (114.5, -0.03), (115.5, -0.15), (116.5, 0.04), (117.5, -0.03), (118.5, 0.06), (119.5, -0.02), (120.5, 0.05),
    (121.5, -0.03), (122.5, 0.04), (123.5, 0.08), (124.5, 0.0), (125.5, 0.12), (126.5, 0.05), (127.3, 0.31), (128, 0.05), (129, -0.03), (130, 0.05),
    (131, -0.02), (132, 0.06), (133, -0.02), (134, 0.05), (135, -0.03), (136, 0.06), (137, 0.02), (138, 0.25), (138.8, 0.0), (139.8, 0.08),
    (141, -0.03), (142, 0.06), (143, -0.02), (144, 0.05), (145, -0.04), (146, 0.05), (147, -0.02), (148, 0.06), (149, -0.03), (150, 0.05),
    (151, 0.0), (152, 0.06), (153, -0.03), (154, 0.05), (155, 0.1), (156.5, 0.3), (157.7, 0.5), (158.3, 0.25), (159, 0.35), (160, 0.05),
    (161, -0.02), (162, 0.06), (163, -0.02), (164, 0.08), (165, 0.15), (166, 0.02), (167, 0.08), (168, -0.05), (169, 0.06), (170, -0.04),
    (171, 0.05), (172, -0.02), (173, 0.06), (174, -0.05), (175, 0.05), (176, 0.0), (177, 0.06), (178, -0.03), (179, 0.05), (180, 0.0),
    (181, 0.08), (181.8, 0.4), (182.5, 1.07), (183.2, 0.5), (183.8, 0.0), (184.5, 0.08), (185.5, -0.03), (186.5, 0.06), (187.5, -0.1), (188.5, 0.05),
    (189.5, 0.02), (190.5, 0.07), (191.5, -0.02), (192.5, 0.05), (193.5, -0.15), (194.5, 0.03), (195.5, 0.08), (196.5, -0.05), (197.5, 0.06), (198.5, 0.12),
    (199.5, -0.02), (200.5, 0.05), (201.5, 0.12), (202.5, 0.0), (203.5, 0.15), (204.5, 0.02), (205.5, 0.08), (206.5, -0.03), (207.5, 0.05), (208.5, 0.0),
    (209.5, 0.06), (210.5, -0.02), (211.5, 0.04), (212.5, -0.06), (213.5, 0.05), (214.5, 0.02), (215.5, 0.08), (216.5, -0.03), (217.5, 0.06), (218.5, 0.0),
    (219.5, 0.1), (220.5, -0.02), (221.5, 0.05), (222.5, -0.05), (223.5, 0.04), (224.5, -0.02), (225.5, 0.06), (226.5, 0.0), (227.5, 0.05), (228.5, -0.02),
    (229.5, 0.06), (230.5, 0.0), (231.5, 0.1), (232.3, 0.5), (233, 0.92), (233.6, 0.3), (234.2, 0.0), (235, -0.1), (236, 0.05), (237, 0.1),
    (238, -0.05), (239, 0.06), (240, 0.15), (241, 0.02), (242, 0.1), (243, -0.02), (244, 0.12), (245, 0.0), (246, 0.06), (247, -0.05),
    (248, 0.03), (249, -0.1), (250, 0.05), (251, 0.0), (252, 0.06), (253, -0.02), (254, 0.05), (255, 0.1), (256, 0.25), (256.8, 0.05),
    (258, -0.03), (259, 0.05), (260, 0.0), (261, 0.05), (262, -0.02), (263, 0.04), (264, 0.0), (265, 0.05), (266, -0.02), (267, 0.04),
    (268, 0.0), (269, 0.06), (270, -0.02), (271, 0.05), (272, 0.0), (273, 0.1), (274, 0.2), (275, 0.05), (276, -0.03), (277, 0.06),
    (278, 0.0), (279, 0.05), (280, -0.02), (281, 0.06), (282, 0.1), (283, 0.0), (284, 0.05), (285, -0.02), (286, 0.06), (287, 0.0),
    (288, 0.05), (289, -0.02), (290, 0.04), (291, -0.05), (292, 0.02), (293, 0.1), (294, 0.05), (295, 0.15), (296, 0.02), (297, 0.08),
    (298, -0.02), (299, 0.06), (300, 0.1), (301, 0.02), (302, -0.05), (303, 0.05), (304, 0.0), (305, 0.08), (306, 0.02), (307, 0.1),
    (308, 0.2), (309, 0.02), (310, 0.08), (311, -0.02), (312, 0.06), (313, 0.0), (314, 0.05), (315, -0.02), (316, 0.05), (317, 0.0),
    (318, 0.06), (319, 0.02), (320, 0.08), (321, 0.0), (322, 0.05), (323, 0.02), (324, 0.06), (325, -0.02), (326, 0.05), (327, 0.1),
    (328, 0.02), (329, 0.2), (330, 0.3), (330.8, 0.05), (331.5, 0.28), (332.3, 0.0), (333.2, 0.15), (334.2, 0.35), (335, 0.05), (336, 0.1),
    (337, -0.05), (338, 0.05), (339, -0.02), (340, 0.06), (341, 0.0), (342, 0.05), (343, -0.02), (344, 0.04), (345, -0.08), (346, 0.02),
    (347, -0.05), (348, 0.05), (349, 0.0), (350, 0.05), (351, 0.1), (352, 0.02), (353, -0.05), (354, 0.02), (355, -0.08), (356, 0.03),
    (357, 0.0), (358, 0.06), (359, 0.02), (360, 0.08), (361, 0.15), (362, 0.03), (363, 0.05), (364, -0.02), (365, 0.04), (366, 0.0),
    (367, 0.05), (368, -0.03), (369, 0.05), (370, 0.0), (371, 0.04), (372, -0.05), (373, 0.02), (374, -0.08), (375, 0.0), (376, -0.15),
    (377, 0.0), (378, 0.05), (379, 0.02), (380, 0.1), (381, 0.0), (382, 0.3), (383, 0.48), (384, 0.2), (385, 0.05), (386, -0.05),
    (387, 0.08), (388, 0.15), (389, 0.05), (390, 0.2), (391, 0.05), (392, 0.12), (393, 0.02), (394, 0.1), (395, 0.0), (396, 0.05),
    (397, -0.02), (398, 0.05), (399, 0.0), (400, -0.1), (401, 0.02), (402, -0.15), (403, -0.05), (404, -0.2), (405, -0.02), (406, 0.03),
    (407, 0.0), (408, 0.05), (409, -0.02), (410, 0.04), (411, 0.0), (412, 0.05), (413, -0.02), (414, 0.04), (415, 0.0), (416, 0.05),
    (417, 0.02), (418, 0.05), (419, 0.1), (420, 0.05), (421, 0.12), (422, 0.08), (423, 0.15), (424, 0.2), (425, 0.1), (426, 0.08),
    (427, 0.05), (428, 0.1), (429, 0.05), (430, 0.08), (431, 0.03), (432, 0.06), (433, 0.02), (434, 0.05), (435, 0.1), (436, 0.28),
    (436.8, 0.35), (437.7, 0.51), (438.4, 0.1), (439.2, 0.3), (440, -0.1), (441, 0.05), (442, -0.05), (443, 0.03), (444, -0.02), (445, 0.04),
    (446, 0.0), (447, 0.03), (448, -0.1), (449, -0.3), (449.7, 0.0), (450.5, 0.05), (451.5, 0.0), (452.5, 0.04), (453.5, -0.02), (454.5, 0.05),
    (455.5, 0.0), (456.5, 0.04), (457.5, -0.03), (458.5, 0.05), (459.5, 0.0), (460.5, 0.06), (461.5, 0.02), (462.5, 0.08), (463.5, 0.0), (464.5, 0.05),
    (465.5, 0.1), (466.5, 0.15), (467.5, 0.05), (468.5, 0.1), (469.5, 0.0), (470.5, 0.05), (471.5, -0.02), (472.5, 0.04), (473.5, 0.0), (474.5, 0.05),
    (475.5, -0.02), (476.5, 0.04), (477.5, 0.0), (478.5, 0.05), (479.5, 0.02), (480.5, 0.06), (481.5, 0.0), (482.5, 0.04), (483.5, -0.02), (484.5, 0.05),
    (485.5, 0.02), (486.5, 0.1), (487.5, 0.2), (488.5, 0.05), (489.5, 0.1), (490.5, 0.05), (491.5, 0.02), (492.5, 0.08), (494, 0.1), (496, 0.15),
    (498, 0.12), (500, 0.2), (502, 0.22), (504.4, 0.35), (506, 0.3), (507.5, 0.2), (509, 0.15), (510, 0.25), (511, 0.38), (512, 0.2),
    (513, -0.1), (514, -0.27), (515.5, -0.4), (517, -0.44), (518.5, -0.35), (520, -0.2), (521, -0.3), (522, -0.1), (523, -0.05), (524, 0),
    (550, 0),
]

sns.set_style("white")
plt.rcParams["font.family"] = ["Liberation Sans", "DejaVu Sans"]
plt.rcParams["axes.unicode_minus"] = False

GRID = "#e6e6e6"
AXC = "#3a3a3a"
BLAUW, ROZE, ROOD, ZWART = "#0000ff", "#ff00ff", "#ff0000", "#000000"
dash = (0, (3, 2))
dot = (0, (1, 1))


def teken(ax, punten, kleur, stijl, lw=0.9):
    df = pd.DataFrame(punten, columns=["t", "v"])
    sns.lineplot(data=df, x="t", y="v", ax=ax, estimator=None, sort=False,
                 color=kleur, linestyle=stijl, lw=lw, legend=False)


def opmaak(ax, titel, ylabel, yticks, ylim, ylab_x):
    ax.set_xlim(0, 550)
    ax.set_ylim(*ylim)
    ax.set_xticks(range(0, 551, 50))
    ax.set_yticks(yticks)
    ax.yaxis.set_major_formatter(FuncFormatter(lambda v, p: "%g" % v))
    ax.grid(True, color=GRID, lw=0.8)
    ax.set_axisbelow(True)
    for s in ["top", "right"]:
        ax.spines[s].set_visible(False)
    for s in ["left", "bottom"]:
        ax.spines[s].set_color(AXC)
        ax.spines[s].set_linewidth(0.8)
    ax.tick_params(direction="in", length=6.5, width=0.8, color=AXC,
                   labelsize=9.5, labelcolor="#262626")
    ax.tick_params(axis="x", pad=6.5)
    ax.tick_params(axis="y", pad=4)
    ax.set_title(titel, fontsize=9.5, fontweight="bold", pad=4.5)
    ax.set_xlabel("(s)", fontsize=9.5, labelpad=2)
    ax.set_ylabel(ylabel, fontsize=9.5)
    ax.yaxis.set_label_coords(ylab_x, 0.5)


def legenda(ax, naam_u, pos):
    handles = [Line2D([], [], color=BLAUW, lw=1.0),
               Line2D([], [], color=ROZE, lw=1.0),
               Line2D([], [], color=ROOD, lw=1.0, linestyle=dash),
               Line2D([], [], color=ZWART, lw=1.0, linestyle=dot)]
    labels = ["Encoder", "Model", "Difference", naam_u]
    leg = ax.legend(handles, labels, loc="upper left", bbox_to_anchor=pos, fontsize=9.5,
                    frameon=True, fancybox=False, framealpha=1, edgecolor=AXC,
                    handlelength=2.1, handletextpad=0.3, labelspacing=0.28,
                    borderpad=0.35, borderaxespad=0)
    leg.get_frame().set_linewidth(0.8)


fig = plt.figure(figsize=(10.11, 4.34), dpi=100)
ax1 = fig.add_axes([0.0485, 0.5876, 0.9377, 0.3548])
ax2 = fig.add_axes([0.0485, 0.0945, 0.9377, 0.3525])

teken(ax1, lin_encoder, BLAUW, "-", lw=1.0)
teken(ax1, lin_model, ROZE, "-", lw=1.0)
teken(ax1, lin_diff, ROOD, dash, lw=0.7)
teken(ax1, lin_uf, ZWART, dot)
opmaak(ax1, "Linear velocity", "(m/s)", [-1, 0, 1, 2], (-1, 2.69), -0.0253)
legenda(ax1, "u$^{f}$", (0.898, 1.08))

teken(ax2, ang_encoder, BLAUW, "-", lw=1.0)
teken(ax2, ang_model, ROZE, "-", lw=1.0)
teken(ax2, ang_diff, ROOD, dash, lw=0.7)
teken(ax2, ang_ul, ZWART, dot)
opmaak(ax2, "Angular velocity", "(rad/s)", [-1.5, -1, -0.5, 0, 0.5, 1, 1.5], (-1.5, 1.5), -0.0359)
legenda(ax2, "u$^{l}$", (0.827, 1.09))

fig.savefig("out.png", dpi=100)
